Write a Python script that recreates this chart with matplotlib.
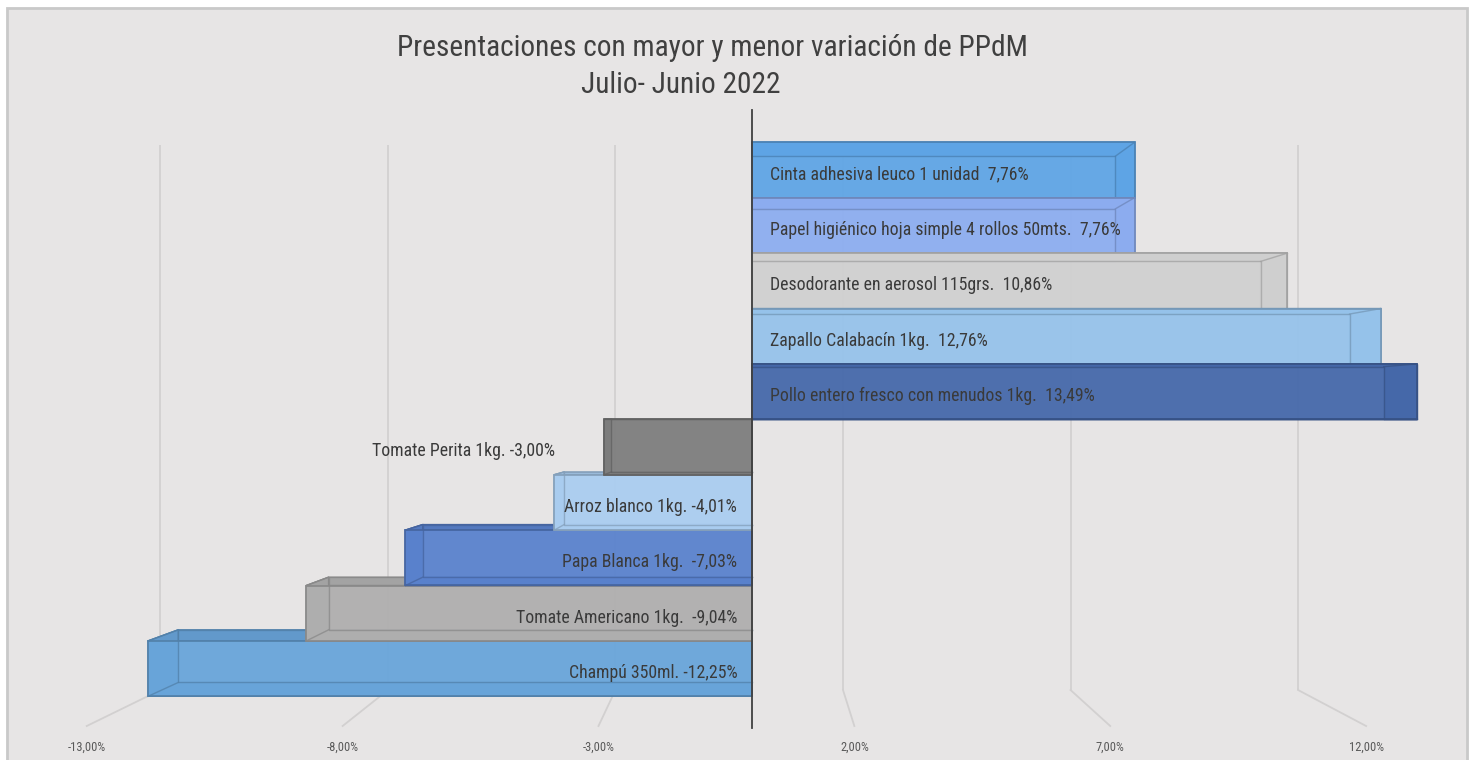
import matplotlib
matplotlib.use("Agg")
import matplotlib.pyplot as plt
from matplotlib.patches import Polygon, Rectangle
from matplotlib import font_manager
import matplotlib.colors as mcolors

# ---------------- data ----------------
categories = [
    "Cinta adhesiva leuco 1 unidad",
    "Papel higiénico hoja simple 4 rollos 50mts.",
    "Desodorante en aerosol 115grs.",
    "Zapallo Calabacín 1kg.",
    "Pollo entero fresco con menudos 1kg.",
    "Tomate Perita 1kg.",
    "Arroz blanco 1kg.",
    "Papa Blanca 1kg.",
    "Tomate Americano 1kg.",
    "Champú 350ml.",
]
values = [7.76, 7.76, 10.86, 12.76, 13.49, -3.00, -4.01, -7.03, -9.04, -12.25]
label_sep = ["  ", "  ", "  ", "  ", "  ", " ", " ", "  ", "  ", " "]
label_outside = [False, False, False, False, False, True, False, False, False, False]
colors = ["#5FA5E6", "#8DADF0", "#D0D0D0", "#96C3EB", "#4669AA",
          "#7E7E7E", "#AACDF0", "#5A82CD", "#AFAFAF", "#69A5DA"]
tick_values = [-13, -8, -3, 2, 7, 12]
title_lines = ["Presentaciones con mayor y menor variación de PPdM", "Julio- Junio 2022"]

# ---------------- fonts ----------------
avail = {f.name for f in font_manager.fontManager.ttflist}
FONT = "DejaVu Sans"
for cand in ["Liberation Sans Narrow", "Roboto Condensed", "Open Sans Condensed", "Liberation Sans"]:
    if cand in avail:
        FONT = cand
        break
plt.rcParams["font.family"] = [FONT, "DejaVu Sans"]

# ---------------- layout ----------------
W, H = 1473, 760
PX_PER_PCT = 49.3
ZERO_PX = 752
ROW0_PX = 170
ROW_PX = 55.4
VPY = 4.5           # vanishing point row (between positive and negative groups)
DEPTH = 0.95        # back-face scale toward vanishing point
WALL = 0.923        # back wall scale
FLOOR = 1.038       # floor front edge scale


def py(p):
    return (p - ROW0_PX) / ROW_PX


fig = plt.figure(figsize=(W / 100, H / 100), dpi=100, facecolor="white")
fig.patches.append(Rectangle((7 / W, -0.05), (1467 - 7) / W, 1 - 8 / H + 0.05,
                             transform=fig.transFigure, facecolor="#E7E5E5",
                             edgecolor="#C9C9C9", lw=2, zorder=-10))
ax = fig.add_axes([0, 0, 1, 1])
ax.set_zorder(5)
ax.set_facecolor("none")
ax.set_xlim(-ZERO_PX / PX_PER_PCT, (W - ZERO_PX) / PX_PER_PCT)
ax.set_ylim(py(H), py(0))
ax.axis("off")

# ---------------- gridlines (back wall + floor) ----------------
y_wall_top, y_wall_bot, y_floor = py(145), py(690), py(726)
for t in tick_values:
    xb, xf = t * WALL, t * FLOOR
    ax.plot([xb, xb], [y_wall_top, y_wall_bot], color="#D2D0D0", lw=1.3, zorder=1,
            solid_capstyle="butt")
    ax.plot([xb, xf], [y_wall_bot, y_floor], color="#D2D0D0", lw=1.3, zorder=1)
    ax.text(xf, py(747), f"{t:.2f}".replace(".", ",") + "%", ha="center", va="center",
            fontsize=9, color="#595959", zorder=2)


def darker(c, f):
    r, g, b = mcolors.to_rgb(c)
    return (r * f, g * f, b * f)


def draw_box(i, v, color, z):
    t, b = i - 0.5, i + 0.5
    bt = VPY + DEPTH * (t - VPY)
    bb = VPY + DEPTH * (b - VPY)
    bv = DEPTH * v
    edge = darker(color, 0.78)
    face2 = darker(color, 0.93)
    faces = [
        [(0, t), (v, t), (bv, bt), (0, bt)],      # top face
        [(0, b), (v, b), (bv, bb), (0, bb)],      # bottom face
        [(v, t), (v, b), (bv, bb), (bv, bt)],     # end face
    ]
    for f in faces:
        ax.add_patch(Polygon(f, closed=True, facecolor=face2, edgecolor=edge,
                             lw=1.0, zorder=z, joinstyle="miter"))
    ax.barh(i, v, height=1.0, left=0, color=color, edgecolor=edge, lw=1.3,
            zorder=z + 0.1, alpha=0.95)
    # back face edges + diagonals seen through translucent front
    ax.plot([0, bv, bv, 0], [bt, bt, bb, bb], color=edge, lw=1.0, alpha=0.75,
            zorder=z + 0.2)
    ax.plot([v, bv], [t, bt], color=edge, lw=1.0, alpha=0.75, zorder=z + 0.2)
    ax.plot([v, bv], [b, bb], color=edge, lw=1.0, alpha=0.75, zorder=z + 0.2)


order = [i for i in range(len(values)) if values[i] < 0][::-1] + \
        [i for i in range(len(values)) if values[i] >= 0]
for k, i in enumerate(order):
    draw_box(i, values[i], colors[i], 3 + k)

# ---------------- labels ----------------
for i, (cat, v) in enumerate(zip(categories, values)):
    txt = cat + label_sep[i] + f"{v:.2f}".replace(".", ",") + "%"
    y = i + 0.08
    if v >= 0:
        ax.text(0.36, y, txt, ha="left", va="center", fontsize=12.8, color="#3A3A3A", zorder=50)
    elif label_outside[i]:
        ax.text(v - 1.0, y, txt, ha="right", va="center", fontsize=12.8, color="#3A3A3A", zorder=50)
    else:
        ax.text(-0.3, y, txt, ha="right", va="center", fontsize=12.8, color="#3A3A3A", zorder=50)

# zero axis line
ax.plot([0, 0], [py(110), py(728)], color="#404040", lw=1.3, zorder=60)

# ---------------- title ----------------
fig.text(712 / W, 1 - 48 / H, title_lines[0], ha="center", va="center", fontsize=21.2, color="#404040")
fig.text(681 / W, 1 - 85 / H, title_lines[1], ha="center", va="center", fontsize=21.2, color="#404040")

fig.savefig("out.png", dpi=100, facecolor=fig.get_facecolor())
